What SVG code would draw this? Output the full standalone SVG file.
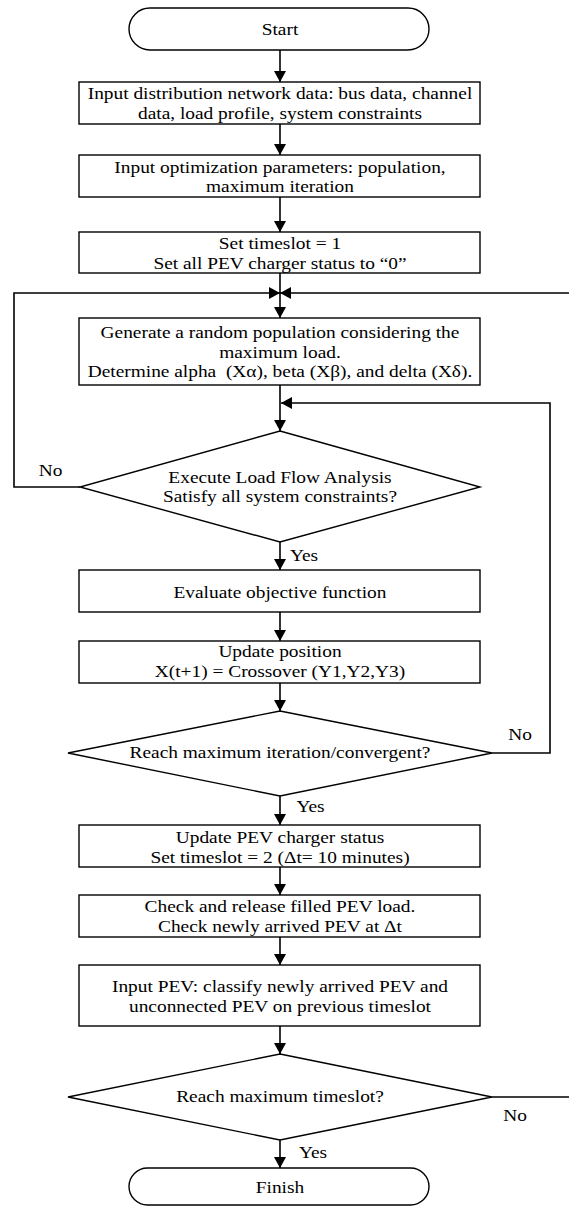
<svg xmlns="http://www.w3.org/2000/svg" width="569" height="1207" viewBox="0 0 569 1207">
<style>
.box{fill:#fff;stroke:#000;stroke-width:1.4}
.ln{fill:none;stroke:#000;stroke-width:1.6}
.t{font-family:"Liberation Serif","Times New Roman",serif;font-size:17px;fill:#000;text-anchor:middle;transform-box:fill-box;transform-origin:center;transform:scaleX(1.14)}
</style>
<defs>
<marker id="ah" viewBox="0 0 11 12" refX="11" refY="6" markerWidth="11" markerHeight="12" markerUnits="userSpaceOnUse" orient="auto">
<path d="M0,0 L11,6 L0,12 z" fill="#000"/>
</marker>
</defs>
<rect width="569" height="1207" fill="#fff"/>
<g id="connectors">
<path class="ln" d="M280,50 V82" marker-end="url(#ah)"/>
<path class="ln" d="M280,124 V155" marker-end="url(#ah)"/>
<path class="ln" d="M280,197 V232" marker-end="url(#ah)"/>
<path class="ln" d="M280,273 V318" marker-end="url(#ah)"/>
<path class="ln" d="M280,385 V431" marker-end="url(#ah)"/>
<path class="ln" d="M280,542 V570" marker-end="url(#ah)"/>
<path class="ln" d="M280,612 V641" marker-end="url(#ah)"/>
<path class="ln" d="M280,683 V711" marker-end="url(#ah)"/>
<path class="ln" d="M280,796 V825" marker-end="url(#ah)"/>
<path class="ln" d="M280,867 V895" marker-end="url(#ah)"/>
<path class="ln" d="M280,937 V965" marker-end="url(#ah)"/>
<path class="ln" d="M280,1026 V1054" marker-end="url(#ah)"/>
<path class="ln" d="M280,1140 V1168" marker-end="url(#ah)"/>
<path class="ln" d="M80,487 H14 V293 H280" marker-end="url(#ah)"/>
<path class="ln" d="M492,753 H550 V403 H281" marker-end="url(#ah)"/>
<path class="ln" d="M492,1097 H575 V293 H280" marker-end="url(#ah)"/>
<text class="t" x="50.5" y="476.5">No</text>
<text class="t" x="304" y="561">Yes</text>
<text class="t" x="520" y="740">No</text>
<text class="t" x="310.5" y="812.5">Yes</text>
<text class="t" x="515" y="1121.5">No</text>
<text class="t" x="313" y="1158">Yes</text>
</g>
<g id="start">
<rect class="box" x="129" y="8" width="300" height="42" rx="21"/>
<text class="t" x="280" y="35">Start</text>
</g>
<g id="input-network">
<rect class="box" x="79" y="82" width="401" height="42"/>
<text class="t" x="280" y="99">Input distribution network data: bus data, channel</text>
<text class="t" x="280" y="119">data, load profile, system constraints</text>
</g>
<g id="input-params">
<rect class="box" x="79" y="155" width="401" height="42"/>
<text class="t" x="280" y="173">Input optimization parameters: population,</text>
<text class="t" x="280" y="192">maximum iteration</text>
</g>
<g id="set-timeslot">
<rect class="box" x="79" y="232" width="401" height="41"/>
<text class="t" x="280" y="249">Set timeslot = 1</text>
<text class="t" x="280" y="269">Set all PEV charger status to “0”</text>
</g>
<g id="generate">
<rect class="box" x="79" y="318" width="401" height="67"/>
<text class="t" x="280" y="338.5">Generate a random population considering the</text>
<text class="t" x="280" y="358.5">maximum load.</text>
<text class="t" x="280" y="377.5">Determine alpha &#160;(Xα), beta (Xβ), and delta (Xδ).</text>
</g>
<g id="load-flow">
<polygon class="box" points="280,431 480,487 280,542 80,487"/>
<text class="t" x="280" y="483">Execute Load Flow Analysis</text>
<text class="t" x="280" y="502.5">Satisfy all system constraints?</text>
</g>
<g id="evaluate">
<rect class="box" x="79" y="570" width="401" height="42"/>
<text class="t" x="280" y="598.5">Evaluate objective function</text>
</g>
<g id="update-position">
<rect class="box" x="79" y="641" width="401" height="42"/>
<text class="t" x="280" y="657.5">Update position</text>
<text class="t" x="280" y="677.5">X(t+1) = Crossover (Y1,Y2,Y3)</text>
</g>
<g id="max-iteration">
<polygon class="box" points="280,711 492,753 280,796 68,753"/>
<text class="t" x="280" y="758.5">Reach maximum iteration/convergent?</text>
</g>
<g id="update-charger">
<rect class="box" x="79" y="825" width="401" height="42"/>
<text class="t" x="280" y="843">Update PEV charger status</text>
<text class="t" x="280" y="863">Set timeslot = 2 (Δt= 10 minutes)</text>
</g>
<g id="check-release">
<rect class="box" x="79" y="895" width="401" height="42"/>
<text class="t" x="280" y="912.5">Check and release filled PEV load.</text>
<text class="t" x="280" y="932">Check newly arrived PEV at Δt</text>
</g>
<g id="input-pev">
<rect class="box" x="79" y="965" width="401" height="61"/>
<text class="t" x="280" y="992.5">Input PEV: classify newly arrived PEV and</text>
<text class="t" x="280" y="1012">unconnected PEV on previous timeslot</text>
</g>
<g id="max-timeslot">
<polygon class="box" points="280,1054 492,1097 280,1140 68,1097"/>
<text class="t" x="280" y="1102.5">Reach maximum timeslot?</text>
</g>
<g id="finish">
<rect class="box" x="129" y="1168" width="300" height="37" rx="18.5"/>
<text class="t" x="280" y="1193">Finish</text>
</g>
</svg>
